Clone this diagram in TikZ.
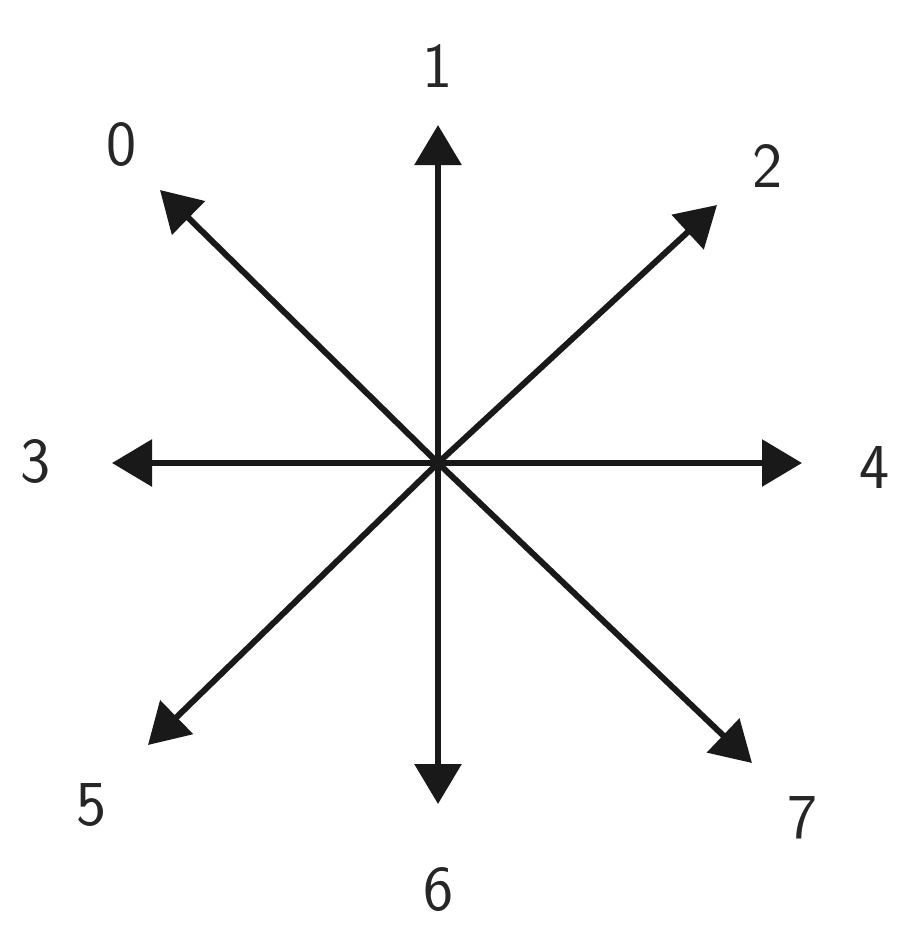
\documentclass[tikz,border=0pt]{standalone}
\usepackage{fontspec}
\usetikzlibrary{arrows.meta}
\begin{document}
\begin{tikzpicture}[x=1pt,y=-1pt,
  dirarrow/.style={line width=6pt,color=black!90,-{Triangle[length=40pt,width=46pt]}},
  dirlabel/.style={inner sep=0pt,text=black!85,font=\sffamily\fontsize{64}{70}\selectfont}]
\useasboundingbox (0,0) rectangle (907,927);
\coordinate (c) at (438,463);
\coordinate (t0) at (160,190);
\coordinate (t1) at (438,125);
\coordinate (t2) at (717,205);
\coordinate (t3) at (112,463);
\coordinate (t4) at (802,463);
\coordinate (t5) at (148,745);
\coordinate (t6) at (438,804);
\coordinate (t7) at (752,763);
\node[dirlabel] (l0) at (122,145) {0};
\node[dirlabel] (l1) at (438,66) {1};
\node[dirlabel] (l2) at (768,166) {2};
\node[dirlabel] (l3) at (36,462) {3};
\node[dirlabel] (l4) at (875,468) {4};
\node[dirlabel] (l5) at (92,805) {5};
\node[dirlabel] (l6) at (439,889) {6};
\node[dirlabel] (l7) at (803,818) {7};
\foreach \i in {0,...,7}{\draw[dirarrow] (c) -- (t\i);}
\end{tikzpicture}
\end{document}
